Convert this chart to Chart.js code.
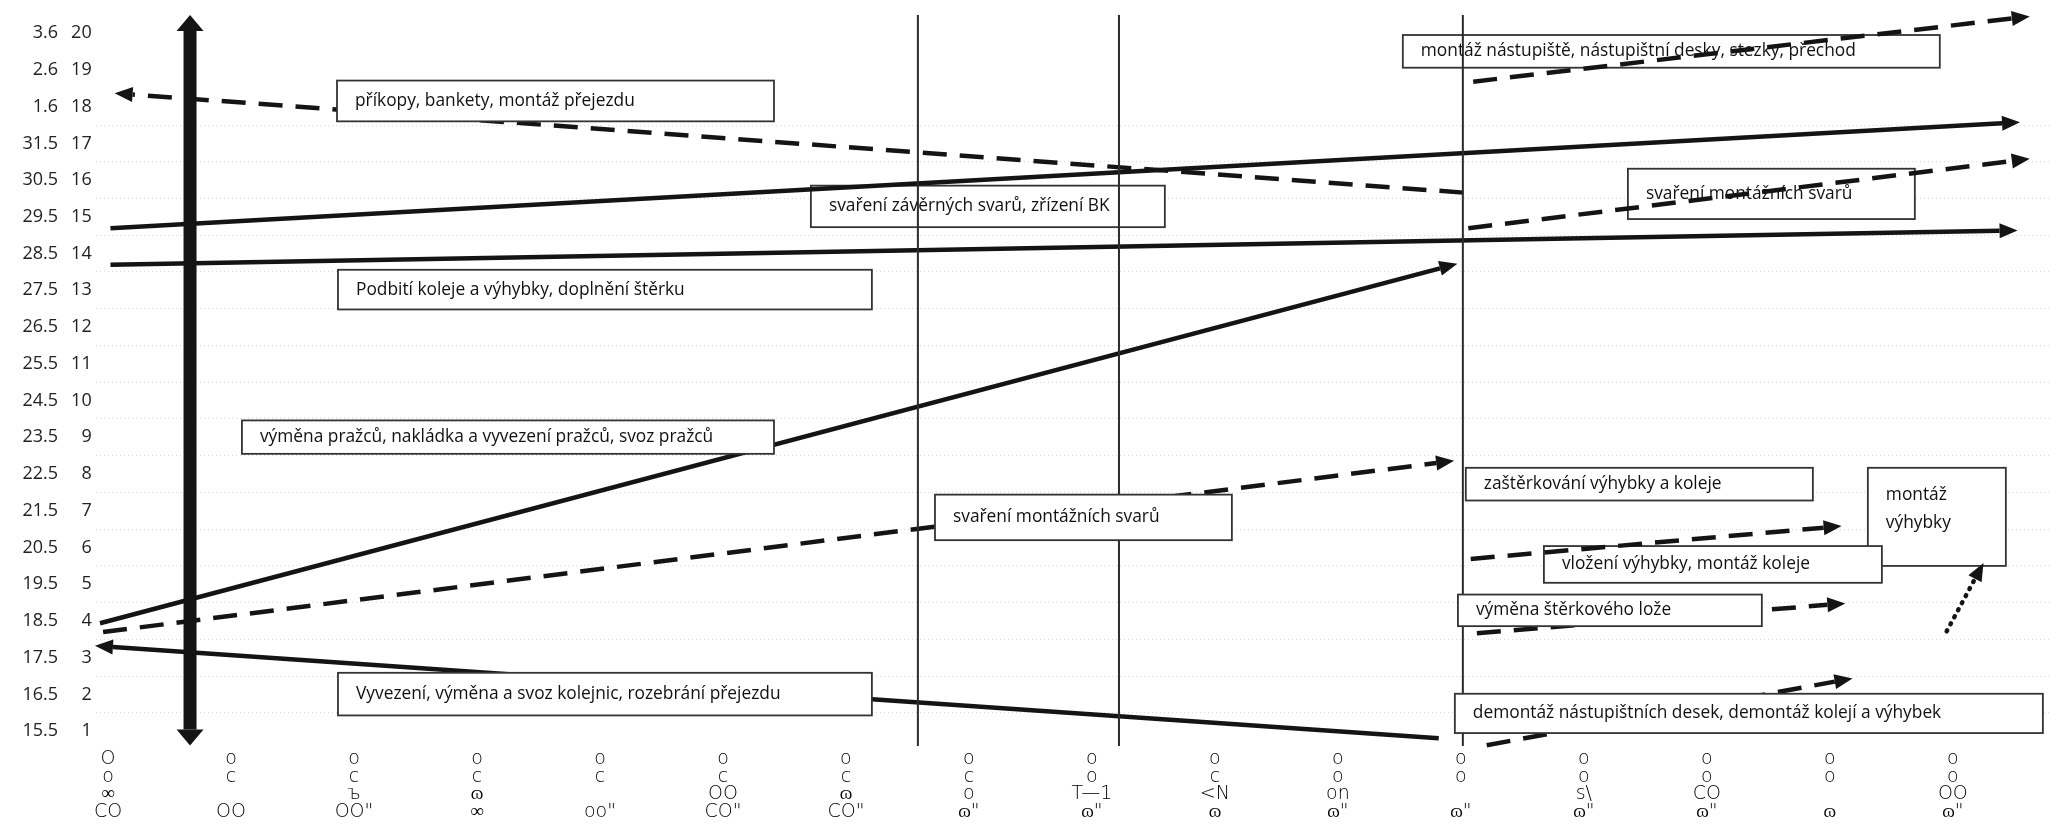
<!DOCTYPE html>
<html>
<head>
<meta charset="utf-8">
<script src="https://cdn.jsdelivr.net/npm/chart.js@4.4.1/dist/chart.umd.min.js"></script>
<style>
  html, body { margin: 0; padding: 0; background: #fff; }
  #wrap { width: 2056px; height: 826px; }
</style>
</head>
<body>
<div id="wrap"><canvas id="chart"></canvas></div>
<script>
// y axis: row numbers and the dates printed next to them
const dayNumbers = [1, 2, 3, 4, 5, 6, 7, 8, 9, 10, 11, 12, 13, 14, 15, 16, 17, 18, 19, 20];
const dayDates = ["15.5", "16.5", "17.5", "18.5", "19.5", "20.5", "21.5", "22.5", "23.5", "24.5",
                  "25.5", "26.5", "27.5", "28.5", "29.5", "30.5", "31.5", "1.6", "2.6", "3.6"];

// x axis labels (scanned, garbled text, kept as it reads)
const xLabels = [
  ["O", "ο", "∞", "CO"],
  ["o", "c", " ", "OO"],
  ["o", "c", "ъ", "OO\""],
  ["o", "c", "ɷ", "∞"],
  ["o", "c", " ", "oo\""],
  ["o", "c", "OO", "CO\""],
  ["o", "c", "ɷ", "CO\""],
  ["o", "c", "o", "ɷ\""],
  ["o", "o", "T—1", "ɷ\""],
  ["o", "c", "<N", "ɷ"],
  ["o", "o", "on", "ɷ\""],
  ["o", "o", " ", "ɷ\""],
  ["o", "o", "s\\", "ɷ\""],
  ["o", "o", "CO", "ɷ\""],
  ["o", "o", " ", "ɷ"],
  ["o", "o", "OO", "ɷ\""]
];

// task arrows: [x, y] start and end (end carries the arrow head)
const prikopy = [[11.02, 15.66], [0.20, 18.33]];
const zavernySvary = [[0.02, 14.69], [15.40, 17.55]];
const podbiti = [[0.02, 13.70], [15.38, 14.62]];
const vymenaPrazcu = [[-0.065, 3.94], [10.83, 13.60]];
const montazniSvary = [[-0.04, 3.70], [10.80, 8.30]];
const vyvezeni = [[10.82, 0.81], [0.04, 3.29]];
const nastupiste = [[11.10, 18.68], [15.48, 20.40]];
const montazniSvary2 = [[11.06, 14.69], [15.48, 16.52]];
const zasterkovani = [[11.08, 5.69], [13.95, 6.54]];
const vymenaLoze = [[11.13, 3.67], [13.98, 4.44]];
const demontaz = [[11.21, 0.62], [14.04, 2.35]];
const montazVyhybky = [[14.95, 3.72], [15.18, 5.15]];
const smer = [[0.667, 1.05], [0.667, 20.06]];
const milestoneX = [6.585, 8.22, 11.016];
const milestoneY = [0.6, 20.5];

// text boxes: text, [left x, right x, top y, bottom y], drawn under the lines?
const boxTexts = [
  ["příkopy, bankety, montáž přejezdu"],
  ["svaření závěrných svarů, zřízení BK"],
  ["Podbití koleje a výhybky, doplnění štěrku"],
  ["výměna pražců, nakládka a vyvezení pražců, svoz pražců"],
  ["svaření montážních svarů"],
  ["Vyvezení, výměna a svoz kolejnic, rozebrání přejezdu"],
  ["montáž nástupiště, nástupištní desky, stezky, přechod"],
  ["svaření montážních svarů"],
  ["zaštěrkování výhybky a koleje"],
  ["montáž", "výhybky"],
  ["vložení výhybky, montáž koleje"],
  ["výměna štěrkového lože"],
  ["demontáž nástupištních desek, demontáž kolejí a výhybek"]
];
const boxRects = [
  [1.862, 5.415, 18.71, 17.60],
  [5.715, 8.593, 15.85, 14.72],
  [1.870, 6.211, 13.56, 12.48],
  [1.089, 5.415, 9.46, 8.55],
  [6.724, 9.138, 7.44, 6.20],
  [1.870, 6.211, 2.59, 1.43],
  [10.528, 14.894, 19.95, 19.06],
  [12.358, 14.691, 16.31, 14.94],
  [11.04, 13.862, 8.17, 7.28],
  [14.309, 15.431, 8.17, 5.50],
  [11.675, 14.423, 6.04, 5.04],
  [10.976, 13.447, 4.72, 3.86],
  [10.951, 15.732, 2.02, 0.95]
];
const boxUnder = [false, true, false, false, false, false, true, true, true, true, true, false, false];

const INK = "#141414";
const SOLID = { borderWidth: 4.5, borderDash: [] };
const DASHED = { borderWidth: 4.5, borderDash: [24, 13] };
const DOTTED = { borderWidth: 4.5, borderDash: [1, 7], borderCapStyle: "round" };

function seg(points, style, arrow) {
  return Object.assign({
    data: points.map(p => ({ x: p[0], y: p[1] })),
    borderColor: INK,
    pointRadius: 0,
    tension: 0,
    fill: false,
    borderCapStyle: "butt",
    arrow: arrow,
    headLen: 18,
    headWidth: 15
  }, style);
}

const datasets = [
  ...milestoneX.map(x => seg(milestoneY.map(y => [x, y]), { borderWidth: 2, borderDash: [], borderColor: "#2b2b2b" }, null)),
  seg(prikopy, DASHED, "end"),
  seg(zavernySvary, SOLID, "end"),
  seg(podbiti, SOLID, "end"),
  seg(vymenaPrazcu, SOLID, "end"),
  seg(montazniSvary, DASHED, "end"),
  seg(vyvezeni, SOLID, "end"),
  seg(nastupiste, DASHED, "end"),
  seg(montazniSvary2, DASHED, "end"),
  seg(zasterkovani, DASHED, "end"),
  seg(vymenaLoze, DASHED, "end"),
  seg(demontaz, DASHED, "end"),
  seg(montazVyhybky, DOTTED, "end"),
  Object.assign(seg(smer, { borderWidth: 13, borderDash: [] }, "both"), { headLen: 16, headWidth: 27 })
];

const arrowHeads = {
  id: "arrowHeads",
  afterDatasetsDraw(chart) {
    const ctx = chart.ctx;
    chart.data.datasets.forEach((ds, i) => {
      if (!ds.arrow) return;
      const pts = chart.getDatasetMeta(i).data;
      const head = (from, to) => {
        const ang = Math.atan2(to.y - from.y, to.x - from.x);
        ctx.save();
        ctx.translate(to.x, to.y);
        ctx.rotate(ang);
        ctx.beginPath();
        ctx.moveTo(ds.headLen, 0);
        ctx.lineTo(0, -ds.headWidth / 2);
        ctx.lineTo(0, ds.headWidth / 2);
        ctx.closePath();
        ctx.fillStyle = ds.borderColor;
        ctx.fill();
        ctx.restore();
      };
      head(pts[pts.length - 2], pts[pts.length - 1]);
      if (ds.arrow === "both") head(pts[1], pts[0]);
    });
  }
};

let boxFontSize = null;
function drawBoxes(chart, under) {
  const ctx = chart.ctx;
  const xs = chart.scales.x, ys = chart.scales.y;
  if (!boxFontSize) {
    ctx.font = '100px "Open Sans"';
    boxFontSize = 100 * 280 / ctx.measureText(boxTexts[0][0]).width;
  }
  ctx.save();
  boxRects.forEach((r, i) => {
    if (boxUnder[i] !== under) return;
    const l = xs.getPixelForValue(r[0]), rt = xs.getPixelForValue(r[1]);
    const t = ys.getPixelForValue(r[2]), b = ys.getPixelForValue(r[3]);
    ctx.fillStyle = "#fff";
    ctx.fillRect(l, t, rt - l, b - t);
    ctx.lineWidth = 1.8;
    ctx.strokeStyle = "#333";
    ctx.strokeRect(l, t, rt - l, b - t);
    ctx.fillStyle = "#111";
    ctx.font = boxFontSize.toFixed(2) + 'px "Open Sans"';
    ctx.textBaseline = "middle";
    ctx.textAlign = "left";
    const lines = boxTexts[i];
    if (lines.length === 1) {
      ctx.fillText(lines[0], l + 18, (t + b) / 2);
    } else {
      lines.forEach((s, k) => ctx.fillText(s, l + 18, t + 27 + k * 28));
    }
  });
  ctx.restore();
}

const noteBoxes = {
  id: "noteBoxes",
  beforeDatasetsDraw(chart) { drawBoxes(chart, true); },
  afterDatasetsDraw(chart) { drawBoxes(chart, false); }
};

new Chart(document.getElementById("chart"), {
  type: "line",
  data: { datasets: datasets },
  plugins: [arrowHeads, noteBoxes],
  options: {
    responsive: true,
    maintainAspectRatio: false,
    animation: false,
    devicePixelRatio: 1,
    layout: { padding: { top: 7.5, right: 6, left: 0, bottom: 0 } },
    plugins: { legend: { display: false }, tooltip: { enabled: false }, title: { display: false } },
    scales: {
      x: {
        type: "linear",
        min: -0.1,
        max: 15.79,
        afterBuildTicks: s => { s.ticks = xLabels.map((_, i) => ({ value: i })); },
        afterFit: s => { s.height = 76.4; },
        ticks: {
          autoSkip: false, maxRotation: 0, minRotation: 0, padding: 1, color: "#000",
          font: { family: "DejaVu Sans", size: 19, weight: 200, lineHeight: 0.92 },
          callback: (v, i) => xLabels[i]
        },
        grid: { display: false, drawTicks: false },
        border: { display: false }
      },
      y: {
        type: "linear",
        position: "left",
        weight: 1,
        min: 0.5,
        max: 20.5,
        afterBuildTicks: s => { s.ticks = dayNumbers.map(v => ({ value: v })); },
        afterFit: s => { s.width = 33.7; },
        ticks: { padding: 4, color: "#222", font: { family: "Open Sans", size: 18 }, callback: v => String(v) },
        grid: {
          offset: true,
          drawTicks: false,
          lineWidth: 1,
          color: c => (c.index >= 1 && c.index <= 17) ? "#dadada" : "rgba(0,0,0,0)"
        },
        border: { display: false, dash: [1, 3] }
      },
      yDate: {
        type: "linear",
        position: "left",
        weight: 2,
        min: 0.5,
        max: 20.5,
        afterBuildTicks: s => { s.ticks = dayNumbers.map(v => ({ value: v })); },
        afterFit: s => { s.width = 62; },
        ticks: { padding: 4, color: "#222", font: { family: "Open Sans", size: 18 }, callback: v => dayDates[v - 1] },
        grid: { display: false, drawTicks: false },
        border: { display: false }
      }
    }
  }
});
</script>
</body>
</html>
